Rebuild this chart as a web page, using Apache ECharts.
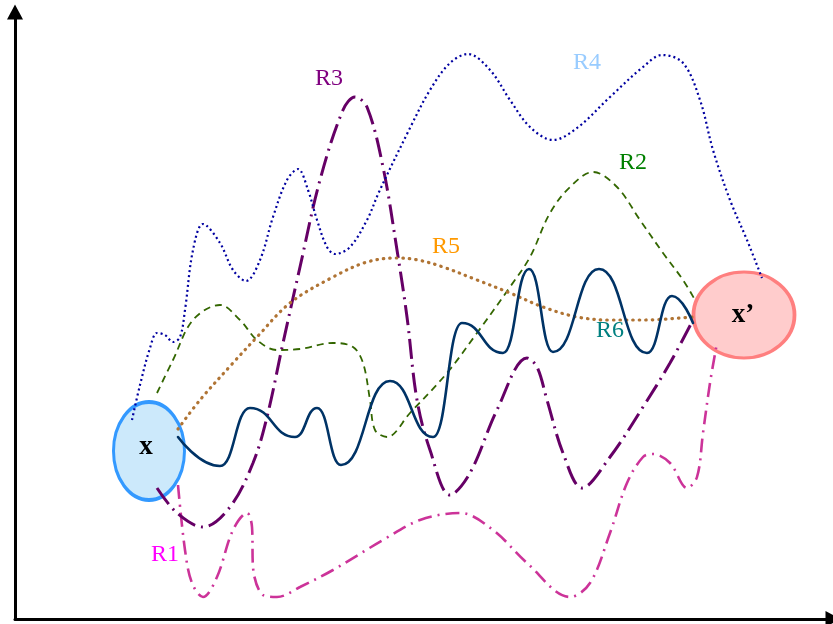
<!DOCTYPE html>
<html><head><meta charset="utf-8">
<script src="https://cdn.jsdelivr.net/npm/echarts@6/dist/echarts.min.js"></script>
<style>html,body{margin:0;padding:0;background:#fff}#c{width:833px;height:624px}</style>
</head><body><div id="c"></div>
<script>
// Route names
const routeNames = ['R1','R2','R3','R4','R5','R6'];
// Path points [x, y] in diagram units
const R1 = [[163,134],[170,69],[177,36],[188,22],[202,42],[218,89],[232,106],[237,92],[238,52],[248,24],[262,22],[285,32],[318,49],[368,79],[405,99],[445,106],[478,89],[512,56],[555,22],[575,36],[595,86],[612,136],[628,162],[638,165],[655,156],[672,131],[682,142],[688,186],[695,236],[702,276]];
const R2 = [[142,226],[158,259],[178,299],[205,314],[225,299],[242,279],[262,269],[285,270],[318,276],[338,272],[348,256],[355,219],[360,189],[372,182],[395,206],[432,246],[462,286],[495,332],[515,362],[535,406],[555,432],[578,447],[602,432],[625,399],[648,366],[668,339],[680,319]];
const R3 = [[142,131],[162,106],[188,92],[215,112],[238,156],[252,202],[268,276],[285,352],[305,439],[328,509],[340,522],[352,512],[368,452],[382,369],[392,302],[402,219],[415,169],[435,124],[455,146],[482,209],[512,261],[522,252],[532,219],[548,166],[567,131],[595,162],[628,212],[655,256],[678,299]];
const R4 = [[117,199],[125,234],[135,271],[142,286],[150,284],[158,277],[165,282],[170,309],[178,369],[188,395],[205,376],[218,349],[231,338],[245,359],[258,402],[272,439],[283,450],[293,429],[302,399],[312,372],[320,365],[335,372],[352,399],[364,427],[395,491],[415,529],[435,556],[453,565],[475,549],[495,519],[515,492],[538,479],[562,491],[595,522],[628,552],[647,564],[668,556],[685,519],[698,469],[715,419],[732,379],[747,341]];
const R5 = [[163,190],[185,219],[218,256],[242,282],[275,316],[318,342],[352,357],[382,361],[403,359],[428,352],[462,339],[495,326],[528,312],[562,302],[595,299],[628,299],[678,302]];
// R6: turning points of the solid wave
const R6 = [[163,182],[205,153],[235,211],[280,182],[302,211],[326,154],[375,238],[418,182],[447,296],[488,266],[514,350],[538,267],[584,350],[632,266],[657,323],[678,296]];
// Nodes
const nodeNames = ['x', 'x\u2019'];
const nodePos = [[134,168],[729,304]];
// Route label anchor points
const labelPos = [[150,64],[618,456],[314,540],[572,556],[431,372],[595,288]];

const routeData = {R1,R2,R3,R4,R5,R6};
const routeStyle = {
  R1:{color:'#cc3399', width:2.6, type:[14,6,2,6], cap:'butt'},
  R2:{color:'#336600', width:1.8, type:[7,5], cap:'butt'},
  R3:{color:'#660066', width:3, type:[20,6,2,6], cap:'butt'},
  R4:{color:'#0000a0', width:2.2, type:[2,3], cap:'butt'},
  R5:{color:'#b07434', width:3.2, type:[0.5,6], cap:'round'},
  R6:{color:'#003366', width:2.6, type:'solid', cap:'round'}
};
const routeSmooth = {R1:0.35, R2:0.35, R3:0.35, R4:0.35, R5:0.35, R6:0.5};
const routeMono = {R6:'x'};
const labelColors = {R1:'#ff00ff',R2:'#008000',R3:'#800080',R4:'#99ccff',R5:'#ff9900',R6:'#008080'};
const serif = '"Liberation Serif", "Times New Roman", Times, serif';

const chart = echarts.init(document.getElementById('c'), null, {renderer:'canvas'});
const series = [];
series.push({
  type:'scatter', z:1, silent:true,
  data:[
    {value:nodePos[0], name:nodeNames[0], symbolSize:[71,98], itemStyle:{color:'#cce9fb', borderColor:'#3399ff', borderWidth:3.5, opacity:1}, label:{offset:[-3,-4]}},
    {value:nodePos[1], name:nodeNames[1], symbolSize:[101,86], itemStyle:{color:'#ffcccc', borderColor:'#ff7f7f', borderWidth:3.5, opacity:1}, label:{offset:[-1,0]}}
  ],
  symbol:'circle',
  itemStyle:{opacity:1},
  label:{show:true, position:'inside', formatter:'{b}', color:'#000', opacity:1, fontFamily:serif, fontWeight:'bold', fontSize:27},
  emphasis:{disabled:true}
});
routeNames.forEach(n => {
  const s = {
    type:'line', name:n, data:routeData[n], smooth:routeSmooth[n], symbol:'none', z:3, silent:true,
    lineStyle:routeStyle[n], emphasis:{disabled:true}
  };
  if (routeMono[n]) s.smoothMonotone = routeMono[n];
  series.push(s);
});
series.push({
  type:'scatter', z:5, silent:true, symbolSize:0, itemStyle:{opacity:1},
  data: routeNames.map((n,i)=>({value:labelPos[i], name:n, label:{color:labelColors[n]}})),
  label:{show:true, position:'inside', formatter:'{b}', opacity:1, fontFamily:serif, fontSize:24},
  emphasis:{disabled:true}
});

chart.setOption({
  animation:false,
  grid:{left:15, right:0, top:12, bottom:5},
  xAxis:{type:'value', min:0, max:818, splitLine:{show:false}, axisTick:{show:false}, axisLabel:{show:false},
    axisLine:{show:true, symbol:['none','triangle'], symbolSize:[16,15], lineStyle:{color:'#000', width:3}}},
  yAxis:{type:'value', min:0, max:607, splitLine:{show:false}, axisTick:{show:false}, axisLabel:{show:false},
    axisLine:{show:true, symbol:['none','triangle'], symbolSize:[16,15], lineStyle:{color:'#000', width:3}}},
  series
});
</script></body></html>
